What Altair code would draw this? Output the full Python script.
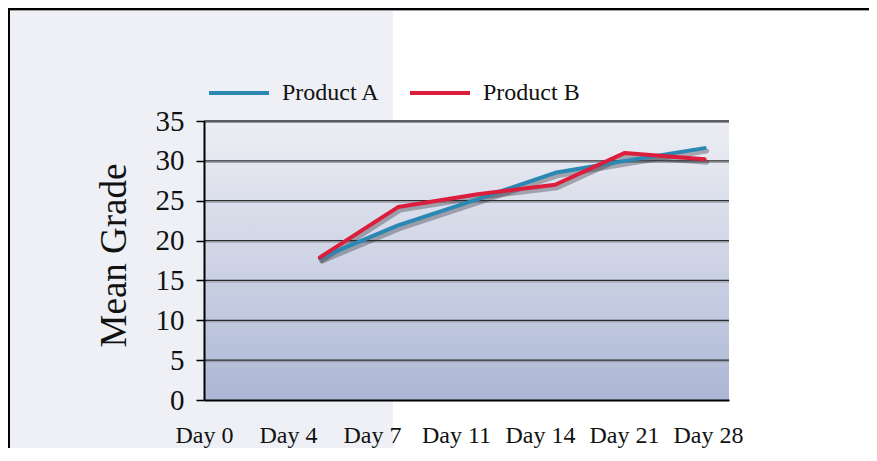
import altair as alt
import pandas as pd

# ---- data ----
day_labels = ["Day 0", "Day 4", "Day 7", "Day 11", "Day 14", "Day 21", "Day 28"]
point_pos = [1.38, 2.31, 3.26, 4.18, 5.01, 5.96]
product_a = [17.8, 21.9, 25.2, 28.5, 30.0, 31.6]
product_b = [17.9, 24.2, 25.8, 27.0, 31.0, 30.2]
series_names = ["Product A", "Product B"]
series_colors = ["#2A88B3", "#DC1E3C"]
y_ticks = [0, 5, 10, 15, 20, 25, 30, 35]

rows = []
for name, vals in zip(series_names, [product_a, product_b]):
    for p, v in zip(point_pos, vals):
        rows.append({"pos": p, "grade": v, "series": name})
df = pd.DataFrame(rows)

W, H = 525, 279
FONT = "Liberation Serif"
PAD = {"left": 196, "top": 113, "right": 140, "bottom": 48}

x_scale = alt.Scale(domain=[0, 6.25], nice=False, zero=False)
y_scale = alt.Scale(domain=[0, 35], nice=False)
label_expr = "[" + ",".join(f"'{l}'" for l in day_labels) + "][datum.value]"

x_axis = alt.Axis(
    values=list(range(len(day_labels))), labelExpr=label_expr, title=None,
    grid=False, ticks=False, tickSize=0, domainColor="#000000", domainWidth=2,
    labelFont=FONT, labelFontSize=24, labelColor="#111111",
    labelBaseline="alphabetic", labelPadding=42, labelFlush=False,
    labelOverlap=False, labelBound=False, zindex=1,
)
y_axis = alt.Axis(
    values=y_ticks, title="Mean Grade", grid=False,
    domainColor="#000000", domainWidth=2, tickColor="#000000", tickWidth=1.5,
    tickSize=8, labelFont=FONT, labelFontSize=29, labelColor="#111111",
    labelPadding=12, titleFont=FONT, titleFontSize=37, titleFontWeight="normal",
    titleColor="#111111", titleX=-79, titleY=134, titleAngle=270,
    titleAlign="center", titleBaseline="alphabetic", zindex=1,
)

one = alt.Data(values=[{}])

# decorative page panel and frame
panel = alt.Chart(one).mark_rect(fill="#EEF0F5").encode(
    x=alt.value(-204), x2=alt.value(189), y=alt.value(-121), y2=alt.value(335)
)
frame_top = alt.Chart(one).mark_rule(color="#000000", strokeWidth=2).encode(
    x=alt.value(-196), x2=alt.value(W + 140), y=alt.value(-112)
)
frame_top_sh = alt.Chart(one).mark_rule(color="#A0A0A0", strokeWidth=1).encode(
    x=alt.value(-194), x2=alt.value(W + 140), y=alt.value(-110.5)
)
frame_left = alt.Chart(one).mark_rule(color="#000000", strokeWidth=2).encode(
    x=alt.value(-195), y=alt.value(-113), y2=alt.value(335)
)

grad = alt.Gradient(
    gradient="linear",
    stops=[
        alt.GradientStop(color="#EDEEF4", offset=0),
        alt.GradientStop(color="#CED4E5", offset=0.5),
        alt.GradientStop(color="#ACB7D5", offset=1),
    ],
    x1=0, x2=0, y1=0, y2=1,
)
plot_bg = alt.Chart(one).mark_rect(fill=grad).encode(
    x=alt.value(0), x2=alt.value("width"), y=alt.value(0), y2=alt.value("height")
)

grid_df = pd.DataFrame({"grade": y_ticks[1:]})
grid_sh = alt.Chart(grid_df).mark_rule(color="#9096A6", strokeWidth=1, yOffset=1.5).encode(
    y=alt.Y("grade:Q", scale=y_scale, axis=y_axis)
)
grid = alt.Chart(grid_df).mark_rule(color="#2B2B2B", strokeWidth=1.3).encode(
    y=alt.Y("grade:Q", scale=y_scale, axis=y_axis)
)

shadow = alt.Chart(df).mark_line(
    color="#2A2C34", opacity=0.35, strokeWidth=5, xOffset=2, yOffset=3,
    strokeCap="round", strokeJoin="round",
).encode(
    x=alt.X("pos:Q", scale=x_scale, axis=x_axis),
    y=alt.Y("grade:Q", scale=y_scale, axis=y_axis),
    detail="series:N",
)

lines = alt.Chart(df).mark_line(strokeWidth=4, strokeCap="round", strokeJoin="round").encode(
    x=alt.X("pos:Q", scale=x_scale, axis=x_axis),
    y=alt.Y("grade:Q", scale=y_scale, axis=y_axis),
    color=alt.Color(
        "series:N",
        scale=alt.Scale(domain=series_names, range=series_colors),
        legend=alt.Legend(
            orient="none", legendX=3, legendY=-60, direction="horizontal", title=None,
            symbolType="stroke", symbolSize=3600, symbolStrokeWidth=4,
            labelFont=FONT, labelFontSize=24, labelColor="#111111", labelOffset=11,
            columnPadding=22, padding=0,
        ),
    ),
)

chart = alt.layer(
    panel, frame_top, frame_top_sh, frame_left, plot_bg, grid_sh, grid, shadow, lines
).properties(
    width=W, height=H, autosize=alt.AutoSizeParams(type="none"), padding=PAD,
    background="white",
).configure_view(stroke=None)

chart.save("out.html", embed_options={"renderer": "svg", "actions": False})
